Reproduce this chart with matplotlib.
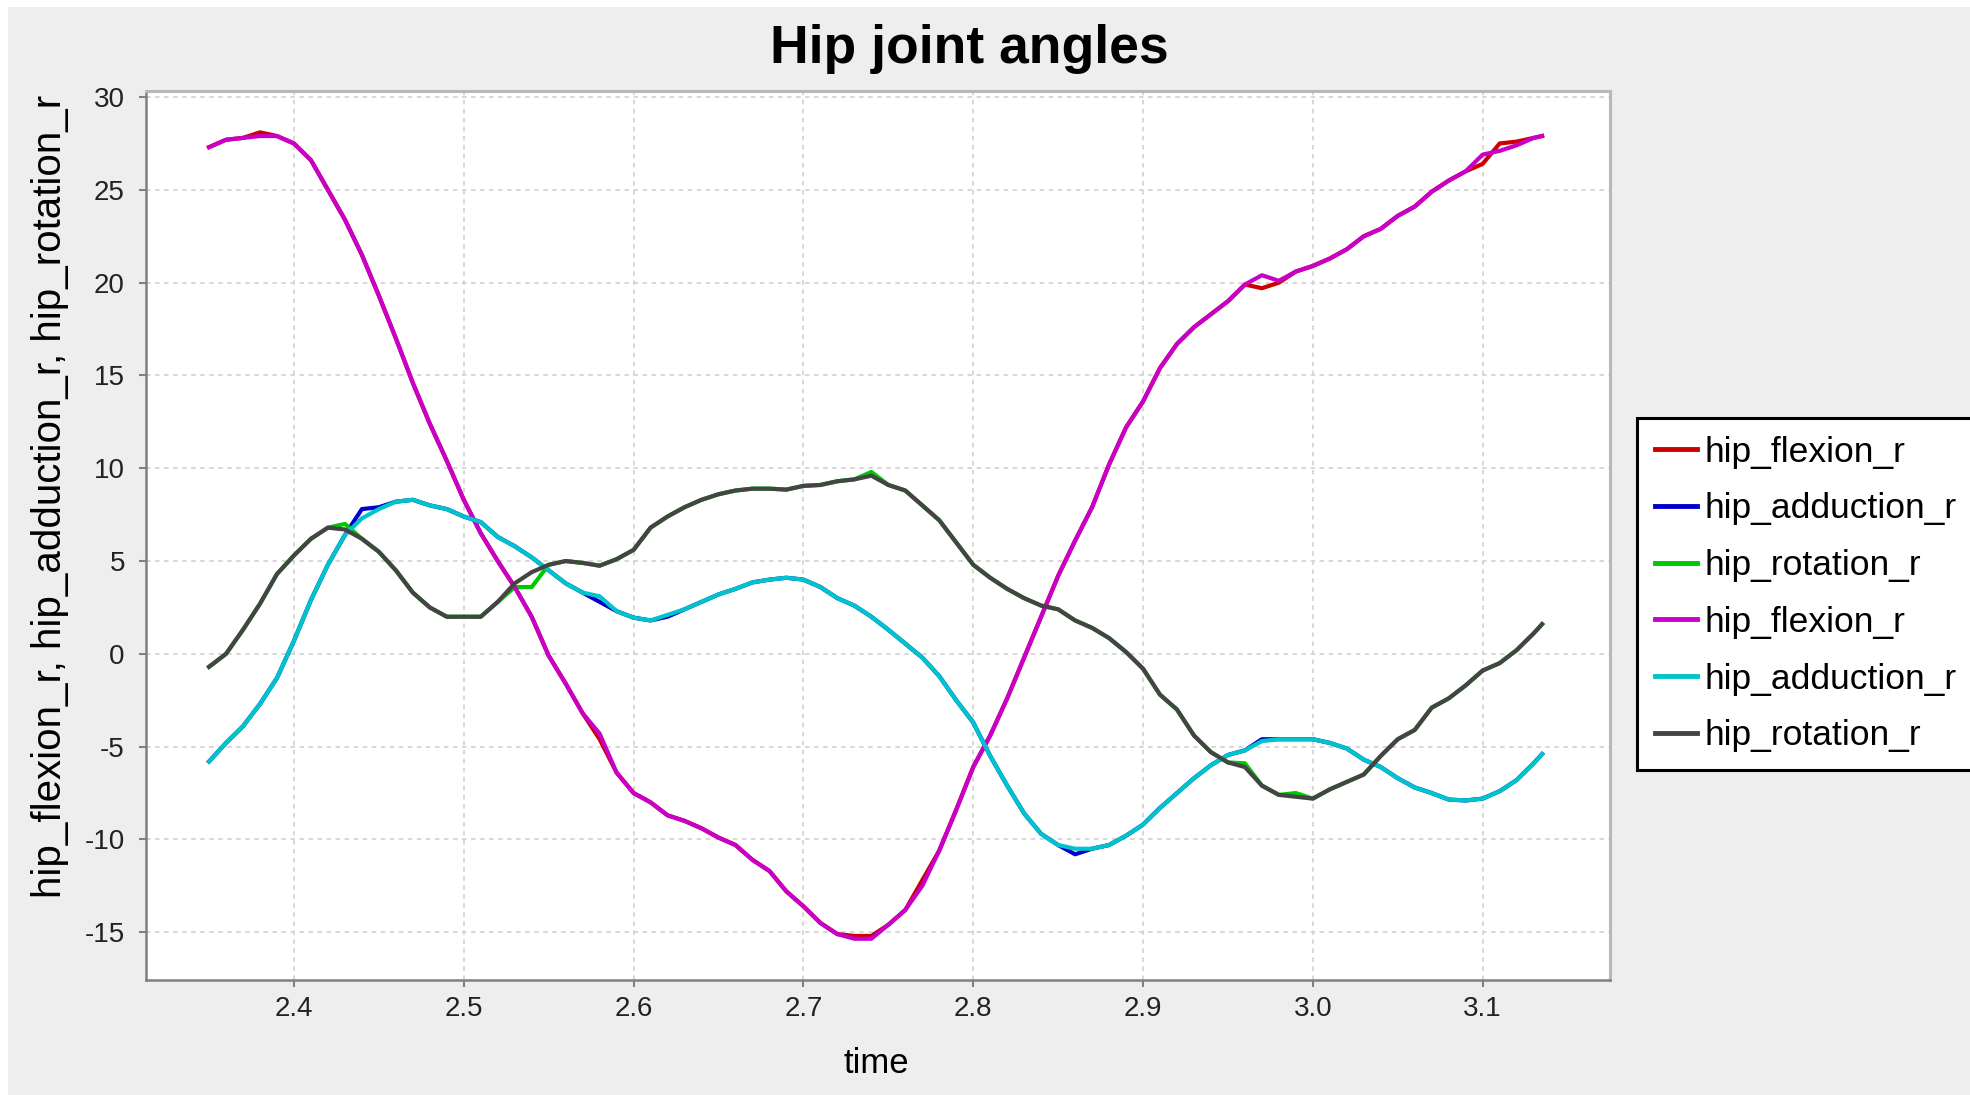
import matplotlib.pyplot as plt
from matplotlib.patches import Rectangle

plt.rcParams['font.family'] = ['Liberation Sans', 'DejaVu Sans']
plt.rcParams['axes.unicode_minus'] = False

# time (s)
time = [2.35, 2.36, 2.37, 2.38, 2.39, 2.40, 2.41, 2.42, 2.43, 2.44,
        2.45, 2.46, 2.47, 2.48, 2.49, 2.50, 2.51, 2.52, 2.53, 2.54,
        2.55, 2.56, 2.57, 2.58, 2.59, 2.60, 2.61, 2.62, 2.63, 2.64,
        2.65, 2.66, 2.67, 2.68, 2.69, 2.70, 2.71, 2.72, 2.73, 2.74,
        2.75, 2.76, 2.77, 2.78, 2.79, 2.80, 2.81, 2.82, 2.83, 2.84,
        2.85, 2.86, 2.87, 2.88, 2.89, 2.90, 2.91, 2.92, 2.93, 2.94,
        2.95, 2.96, 2.97, 2.98, 2.99, 3.00, 3.01, 3.02, 3.03, 3.04,
        3.05, 3.06, 3.07, 3.08, 3.09, 3.10, 3.11, 3.12, 3.13, 3.135]

# first set (red / blue / green)
flexion_1 = [27.3, 27.7, 27.8, 28.1, 27.9, 27.5, 26.6, 25.0, 23.4, 21.5,
             19.3, 17.0, 14.6, 12.4, 10.4, 8.3, 6.5, 5.0, 3.6, 2.0,
             -0.1, -1.6, -3.2, -4.6, -6.4, -7.5, -8.0, -8.7, -9.0, -9.4,
             -9.9, -10.3, -11.1, -11.7, -12.8, -13.6, -14.5, -15.1, -15.2, -15.2,
             -14.6, -13.8, -12.2, -10.6, -8.4, -6.1, -4.4, -2.4, -0.2, 2.0,
             4.2, 6.1, 7.9, 10.2, 12.2, 13.6, 15.4, 16.7, 17.6, 18.3,
             19.0, 19.9, 19.7, 20.0, 20.6, 20.9, 21.3, 21.8, 22.5, 22.9,
             23.6, 24.1, 24.9, 25.5, 26.0, 26.4, 27.5, 27.6, 27.8, 27.9]
adduction_1 = [-5.8, -4.8, -3.9, -2.7, -1.3, 0.7, 2.9, 4.8, 6.4, 7.8,
               7.9, 8.2, 8.3, 8.0, 7.8, 7.4, 7.1, 6.3, 5.8, 5.2,
               4.5, 3.8, 3.3, 2.8, 2.3, 1.95, 1.8, 2.0, 2.4, 2.8,
               3.2, 3.5, 3.85, 4.0, 4.1, 4.0, 3.6, 3.0, 2.6, 2.0,
               1.3, 0.55, -0.2, -1.2, -2.5, -3.7, -5.5, -7.1, -8.6, -9.7,
               -10.3, -10.8, -10.5, -10.3, -9.8, -9.2, -8.3, -7.5, -6.7, -6.0,
               -5.45, -5.2, -4.6, -4.6, -4.6, -4.6, -4.8, -5.1, -5.7, -6.1,
               -6.7, -7.2, -7.5, -7.85, -7.9, -7.8, -7.4, -6.8, -5.9, -5.4]
rotation_1 = [-0.7, 0.0, 1.3, 2.7, 4.3, 5.3, 6.2, 6.8, 7.0, 6.2,
              5.5, 4.5, 3.3, 2.5, 2.0, 2.0, 2.0, 2.8, 3.6, 3.6,
              4.8, 5.0, 4.9, 4.75, 5.1, 5.6, 6.8, 7.4, 7.9, 8.3,
              8.6, 8.8, 8.9, 8.9, 8.85, 9.05, 9.1, 9.3, 9.4, 9.8,
              9.1, 8.8, 8.0, 7.2, 6.0, 4.8, 4.1, 3.5, 3.0, 2.6,
              2.4, 1.8, 1.4, 0.85, 0.1, -0.8, -2.2, -3.0, -4.4, -5.3,
              -5.85, -5.9, -7.1, -7.6, -7.5, -7.8, -7.3, -6.9, -6.5, -5.5,
              -4.6, -4.1, -2.9, -2.4, -1.7, -0.9, -0.5, 0.2, 1.1, 1.6]

# second set (magenta / cyan / dark gray)
flexion_2 = [27.3, 27.7, 27.8, 27.9, 27.9, 27.5, 26.6, 25.0, 23.4, 21.5,
             19.3, 17.0, 14.6, 12.4, 10.4, 8.3, 6.5, 5.0, 3.6, 2.0,
             -0.1, -1.6, -3.2, -4.3, -6.4, -7.5, -8.0, -8.7, -9.0, -9.4,
             -9.9, -10.3, -11.1, -11.7, -12.8, -13.6, -14.5, -15.1, -15.35, -15.35,
             -14.6, -13.8, -12.5, -10.6, -8.4, -6.1, -4.4, -2.4, -0.2, 2.0,
             4.2, 6.1, 7.9, 10.2, 12.2, 13.6, 15.4, 16.7, 17.6, 18.3,
             19.0, 19.9, 20.4, 20.1, 20.6, 20.9, 21.3, 21.8, 22.5, 22.9,
             23.6, 24.1, 24.9, 25.5, 26.0, 26.9, 27.1, 27.4, 27.8, 27.9]
adduction_2 = [-5.8, -4.8, -3.9, -2.7, -1.3, 0.7, 2.9, 4.8, 6.4, 7.3,
               7.8, 8.2, 8.3, 8.0, 7.8, 7.4, 7.1, 6.3, 5.8, 5.2,
               4.5, 3.8, 3.3, 3.1, 2.3, 1.95, 1.8, 2.1, 2.4, 2.8,
               3.2, 3.5, 3.85, 4.0, 4.1, 4.0, 3.6, 3.0, 2.6, 2.0,
               1.3, 0.55, -0.2, -1.2, -2.5, -3.7, -5.5, -7.1, -8.6, -9.7,
               -10.3, -10.5, -10.5, -10.3, -9.8, -9.2, -8.3, -7.5, -6.7, -6.0,
               -5.45, -5.2, -4.7, -4.6, -4.6, -4.6, -4.8, -5.1, -5.7, -6.1,
               -6.7, -7.2, -7.5, -7.85, -7.9, -7.8, -7.4, -6.8, -5.9, -5.4]
rotation_2 = [-0.7, 0.0, 1.3, 2.7, 4.3, 5.3, 6.2, 6.8, 6.7, 6.2,
              5.5, 4.5, 3.3, 2.5, 2.0, 2.0, 2.0, 2.8, 3.8, 4.4,
              4.8, 5.0, 4.9, 4.75, 5.1, 5.6, 6.8, 7.4, 7.9, 8.3,
              8.6, 8.8, 8.9, 8.9, 8.85, 9.05, 9.1, 9.3, 9.4, 9.6,
              9.1, 8.8, 8.0, 7.2, 6.0, 4.8, 4.1, 3.5, 3.0, 2.6,
              2.4, 1.8, 1.4, 0.85, 0.1, -0.8, -2.2, -3.0, -4.4, -5.3,
              -5.85, -6.1, -7.1, -7.6, -7.7, -7.8, -7.3, -6.9, -6.5, -5.5,
              -4.6, -4.1, -2.9, -2.4, -1.7, -0.9, -0.5, 0.2, 1.1, 1.6]

labels = ['hip_flexion_r', 'hip_adduction_r', 'hip_rotation_r',
          'hip_flexion_r', 'hip_adduction_r', 'hip_rotation_r']
colors = ['#cc0000', '#0000cc', '#00c800', '#c800c8', '#00c4cc', '#444444']
series = [flexion_1, adduction_1, rotation_1, flexion_2, adduction_2, rotation_2]

fig = plt.figure(figsize=(19.7, 10.95), dpi=100, facecolor='#eeeeee')
# thin white strips at the top and left edge of the screenshot
fig.add_artist(Rectangle((0, 1 - 7 / 1095), 1, 7 / 1095, transform=fig.transFigure,
                         facecolor='white', edgecolor='none'))
fig.add_artist(Rectangle((0, 0), 8 / 1970, 1, transform=fig.transFigure,
                         facecolor='white', edgecolor='none'))

ax = fig.add_axes([0.07396, 0.10457, 0.74305, 0.81187])
ax.set_facecolor('white')

for vals, col, lab in zip(series, colors, labels):
    ax.plot(time, vals, color=col, lw=3, label=lab, solid_joinstyle='round')

ax.set_xlim(2.3127, 3.1747)
ax.set_ylim(-17.6, 30.3)
ax.set_xticks([2.4, 2.5, 2.6, 2.7, 2.8, 2.9, 3.0, 3.1])
ax.set_yticks([-15, -10, -5, 0, 5, 10, 15, 20, 25, 30])

ax.grid(True, color='#d4d4d4', linestyle=(0, (2.5, 2.5)), linewidth=1.3)
ax.set_axisbelow(True)

for side in ['left', 'bottom']:
    ax.spines[side].set_color('#808080')
    ax.spines[side].set_linewidth(1.8)
for side in ['top', 'right']:
    ax.spines[side].set_color('#b8b8b8')
    ax.spines[side].set_linewidth(2.2)

ax.tick_params(axis='both', direction='out', length=5, width=1.5, color='#808080',
               labelsize=20, labelcolor='#222222')
ax.tick_params(axis='y', pad=10)
ax.tick_params(axis='x', pad=6)

fig.text(0.492, 0.9425, 'Hip joint angles', ha='center', va='baseline',
         fontsize=38.5, fontweight='bold')
fig.text(0.4447, 0.0201, 'time', ha='center', va='baseline', fontsize=25)
fig.text(0.0255, 0.547, 'hip_flexion_r, hip_adduction_r, hip_rotation_r',
         rotation=90, ha='center', va='center', fontsize=29)

leg = ax.legend(loc='upper left', bbox_to_anchor=(0.831, 0.6183),
                bbox_transform=fig.transFigure, borderaxespad=0,
                fontsize=25.5, frameon=True, fancybox=False, framealpha=1,
                edgecolor='black', borderpad=0.5, labelspacing=0.67,
                handlelength=1.2, handletextpad=0.2)
leg.get_frame().set_linewidth(2.2)
for line in leg.get_lines():
    line.set_linewidth(3.5)

fig.savefig('out.png', dpi=100, facecolor=fig.get_facecolor())
